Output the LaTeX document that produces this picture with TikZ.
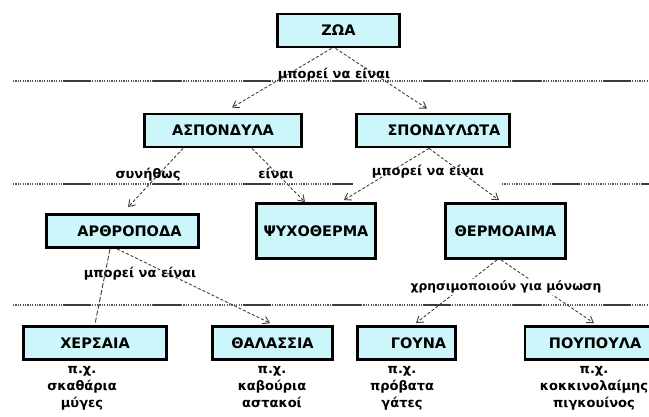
\documentclass[tikz,border=0pt]{standalone}
\usepackage{fontspec}
\setmainfont{DejaVu Sans}
\usetikzlibrary{arrows.meta}
\definecolor{boxfill}{RGB}{204,246,250}
\definecolor{linegray}{RGB}{60,60,60}
\begin{document}
\begin{tikzpicture}[x=1pt,y=-1pt,
  box/.style={draw=black, line width=2.8pt, fill=boxfill, inner sep=0pt,
    minimum height=33pt, font=\fontsize{14.5}{16}\selectfont\bfseries},
  lbl/.style={inner sep=1pt, font=\fontsize{13}{15}\selectfont\bfseries},
  ex/.style={align=center, inner sep=0pt, anchor=north,
    font=\fontsize{13}{17}\selectfont\bfseries},
  conn/.style={draw=linegray, line width=0.9pt, dash pattern=on 3pt off 2pt,
    -{Straight Barb[length=6pt,width=8pt]}},
  plainconn/.style={draw=linegray, line width=0.9pt, dash pattern=on 5pt off 2pt},
  sepdot/.style={draw=linegray!85, line width=1.5pt, dash pattern=on 1.2pt off 1.2pt},
  sepsolid/.style={draw=linegray, line width=1.5pt, dash pattern=on 28pt off 62pt, dash phase=40pt}
]
\useasboundingbox (0,0) rectangle (649,417);

% separator lines
\coordinate (s1a) at (13,81);  \coordinate (s1b) at (649,81);
\coordinate (s2a) at (13,184); \coordinate (s2b) at (353,184);
\coordinate (s2c) at (502,184); \coordinate (s2d) at (649,184);
\coordinate (s3a) at (13,305); \coordinate (s3b) at (649,305);
\draw[sepdot] (s1a) -- (s1b);
\draw[sepsolid] (s1a) -- (s1b);
\draw[sepdot] (s2a) -- (s2b);
\draw[sepsolid] (s2a) -- (s2b);
\draw[sepdot] (s2c) -- (s2d);
\draw[sepsolid] (s2c) -- (s2d);
\draw[sepdot] (s3a) -- (s3b);
\draw[sepsolid] (s3a) -- (s3b);

% boxes
\node[box, minimum width=122pt] (zwa) at (338.5,30.5) {ΖΩΑ};
\node[box, minimum width=157pt] (asp) at (223,130.5) {ΑΣΠΟΝΔΥΛΑ};
\node[box, minimum width=153pt] (spo) at (433,130.5) {\hspace*{22pt}ΣΠΟΝΔΥΛΩΤΑ};
\node[box, minimum width=152pt] (arth) at (122.5,231) {\hspace*{14pt}ΑΡΘΡΟΠΟΔΑ};
\node[box, minimum width=119pt, minimum height=55pt] (psy) at (316,231) {ΨΥΧΟΘΕΡΜΑ};
\node[box, minimum width=120pt, minimum height=55pt] (therm) at (505.5,231) {ΘΕΡΜΟΑΙΜΑ};
\node[box, minimum width=143pt] (cher) at (95,343) {ΧΕΡΣΑΙΑ};
\node[box, minimum width=120pt] (thal) at (272.5,343) {ΘΑΛΑΣΣΙΑ};
\node[box, minimum width=98pt] (gou) at (406.5,343) {\hspace*{24pt}ΓΟΥΝΑ};
\node[box, anchor=west, minimum width=140pt, text width=92pt, align=left] (poup) at (523.5,343) {ΠΟΥΠΟΥΛΑ};

% labels
\node[lbl] (l1) at (334,75) {μπορεί να είναι};
\node[lbl] (l2) at (148,175) {συνήθως};
\node[lbl] (l3) at (276,173) {είναι};
\node[lbl] (l4) at (428,172) {μπορεί να είναι};
\node[lbl] (l5) at (140,274) {μπορεί να είναι};

% connectors
\draw[conn] ([xshift=-7pt]zwa.south) -- ([xshift=9pt,yshift=5pt]asp.north);
\draw[conn] ([xshift=-3pt]zwa.south) -- ([xshift=-6pt,yshift=4pt]spo.north);
\draw[conn] ([xshift=-40pt]asp.south) -- ([xshift=5.5pt,yshift=6pt]arth.north);
\draw[conn] ([xshift=29pt]asp.south) -- ([xshift=-11pt]psy.north);
\draw[conn] ([xshift=-4pt]spo.south) -- ([xshift=-33pt,yshift=2pt]psy.north east);
\draw[conn] ([xshift=-4pt]spo.south) -- ([xshift=-6.5pt,yshift=2pt]therm.north);
\draw[plainconn] ([xshift=-12.5pt]arth.south) -- ([yshift=1pt]cher.north);
\draw[conn] ([xshift=-5.5pt]arth.south) -- ([xshift=-2.5pt,yshift=2pt]thal.north);
\draw[conn] ([xshift=-8.5pt]therm.south) -- ([xshift=9.5pt,yshift=2pt]gou.north);
\draw[conn] ([xshift=-4.5pt]therm.south) -- ([xshift=-1pt,yshift=2pt]poup.north);

\node[lbl, fill=white, inner sep=2pt, font=\fontsize{12.3}{14}\selectfont\bfseries] (l6) at (506,287) {χρησιμοποιούν για μόνωση};

% examples
\node[ex] (e1) at (82,366) {π.χ.\\σκαθάρια\\μύγες};
\node[ex] (e2) at (272,366) {π.χ.\\καβούρια\\αστακοί};
\node[ex] (e3) at (402,366) {π.χ.\\πρόβατα\\γάτες};
\node[ex] (e4) at (594,366) {π.χ.\\κοκκινολαίμης\\πιγκουίνος};
\end{tikzpicture}
\end{document}
